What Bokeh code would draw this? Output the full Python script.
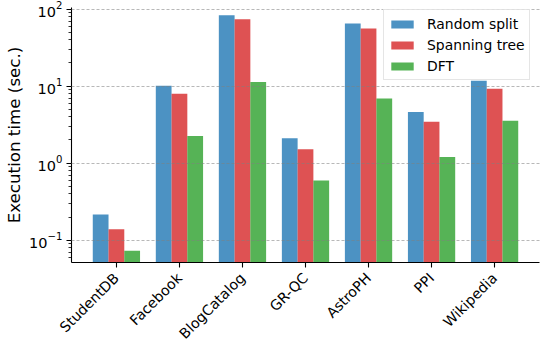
import math
from bokeh.plotting import figure
from bokeh.models import Range1d, FixedTicker, Legend, LegendItem
from bokeh.embed import file_html
from bokeh.resources import INLINE

datasets = ["StudentDB", "Facebook", "BlogCatalog", "GR-QC", "AstroPH", "PPI", "Wikipedia"]
random_split = [0.216, 10.1, 83, 2.1, 65, 4.62, 11.7]
spanning_tree = [0.139, 7.98, 74, 1.52, 56, 3.45, 9.24]
dft = [0.073, 2.26, 11.3, 0.595, 6.9, 1.2, 3.55]
series_names = ["Random split", "Spanning tree", "DFT"]
series_values = [random_split, spanning_tree, dft]
colors = ["#1f77b4", "#d62728", "#2ca02c"]
y_label = "Execution time (sec.)"

FONT = "DejaVu Sans"
bar_w = 0.25

p = figure(width=542, height=350, y_axis_type="log",
           x_range=Range1d(-0.7125, len(datasets) - 1 + 0.7125),
           y_range=Range1d(0.0514, 104.8),
           output_backend="svg", toolbar_location=None,
           min_border_left=71, min_border_right=3, min_border_top=7, min_border_bottom=60)
p.outline_line_color = None
p.background_fill_color = "white"

renderers = []
for k, (vals, col) in enumerate(zip(series_values, colors)):
    xs = [i + (k - 1) * bar_w for i in range(len(datasets))]
    r = p.vbar(x=xs, top=vals, bottom=0.001, width=bar_w,
               fill_color=col, fill_alpha=0.8, line_color=None)
    renderers.append(r)

# axes
for ax in (p.xaxis[0], p.yaxis[0]):
    ax.axis_line_color = "black"
    ax.axis_line_width = 1.1
    ax.major_tick_line_color = "black"
    ax.major_tick_line_width = 1.1
    ax.major_tick_out = 5
    ax.major_tick_in = 0
    ax.major_label_text_font = FONT
    ax.major_label_text_color = "black"
p.yaxis.major_label_text_font_size = "14.5px"

p.xaxis.ticker = FixedTicker(ticks=list(range(len(datasets))))
p.xaxis.major_label_overrides = {i: n for i, n in enumerate(datasets)}
p.xaxis.major_label_orientation = math.pi / 4
p.xaxis.major_label_text_font_size = "14.2px"
p.xaxis.major_label_standoff = 8
p.xaxis.axis_label_standoff = 0
p.xaxis.minor_tick_line_color = None

p.yaxis[0].ticker.num_minor_ticks = 10
p.yaxis.minor_tick_line_color = "black"
p.yaxis.minor_tick_out = 3
p.yaxis.minor_tick_in = 0
p.yaxis.minor_tick_line_width = 0.8
p.yaxis.axis_label = y_label
p.yaxis.axis_label_text_font = FONT
p.yaxis.axis_label_text_font_size = "16.7px"
p.yaxis.axis_label_text_font_style = "normal"
p.yaxis.axis_label_text_color = "black"
p.yaxis.axis_label_standoff = 2
p.yaxis.major_label_standoff = 4

p.xgrid.visible = False
p.ygrid.grid_line_color = "#808080"
p.ygrid.grid_line_alpha = 0.7
p.ygrid.grid_line_dash = "3 2"
p.ygrid.grid_line_width = 0.8
p.ygrid.level = "overlay"

legend = Legend(items=[LegendItem(label=n, renderers=[r]) for n, r in zip(series_names, renderers)],
                location=(312, 182))
legend.label_text_font = FONT
legend.label_text_font_size = "13.9px"
legend.label_text_color = "black"
legend.glyph_width = 28
legend.glyph_height = 10
legend.label_height = 19
legend.spacing = 2
legend.padding = 4
legend.label_standoff = 11
legend.border_line_color = "#cccccc"
legend.border_line_width = 1
legend.background_fill_alpha = 0.8
legend.margin = 0
p.add_layout(legend)

open("out.html", "w").write(file_html(p, INLINE))
